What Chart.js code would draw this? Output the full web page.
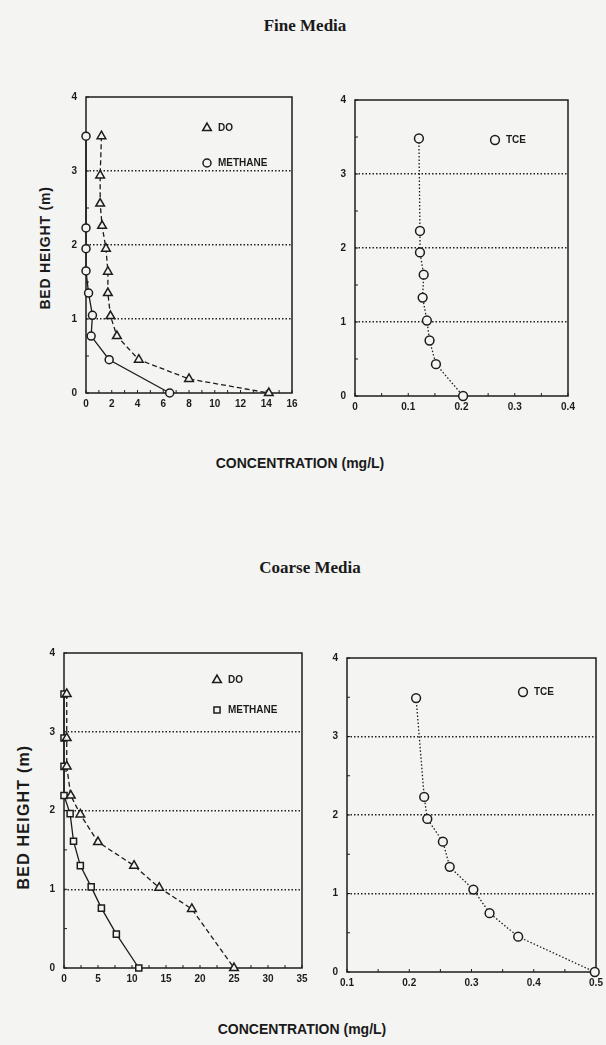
<!DOCTYPE html>
<html><head><meta charset="utf-8">
<script src="https://cdn.jsdelivr.net/npm/chart.js@4.4.0/dist/chart.umd.min.js"></script>
<style>
html,body{margin:0;padding:0;background:#f4f4f2;}
#page{position:relative;width:606px;height:1045px;overflow:hidden;background:#f4f4f2;}
canvas{position:absolute;}
.t{position:absolute;white-space:nowrap;color:#1a1a1a;line-height:1;}
.title{font-family:"Liberation Serif","DejaVu Serif",serif;font-weight:bold;font-size:17px;transform:translateX(-50%);}
.xl{font-family:"Liberation Sans",Arial,sans-serif;font-weight:bold;font-size:14px;transform:translateX(-50%);}
.yl{font-family:"Liberation Sans",Arial,sans-serif;font-weight:bold;transform:translate(-50%,-50%) rotate(-90deg);}
</style></head>
<body><div id="page">
<div class="t title" style="left:305px;top:17px">Fine Media</div>
<div class="t title" style="left:310px;top:559px">Coarse Media</div>
<div class="t xl" style="left:300px;top:456px">CONCENTRATION (mg/L)</div>
<div class="t xl" style="left:302px;top:1022px">CONCENTRATION (mg/L)</div>
<div class="t yl" style="left:45px;top:248px;font-size:14px;letter-spacing:0.8px">BED HEIGHT (m)</div>
<div class="t yl" style="left:24px;top:817px;font-size:16px;letter-spacing:1.2px">BED HEIGHT (m)</div>
<canvas id="c1"></canvas><canvas id="c2"></canvas><canvas id="c3"></canvas><canvas id="c4"></canvas>
</div>
<script>
// ---------- DATA ----------
// Fine media
const fineHeightDO      = [3.47, 2.94, 2.56, 2.26, 1.95, 1.64, 1.35, 1.04, 0.77, 0.45, 0.19, 0];
const fineDO            = [1.2, 1.1, 1.1, 1.25, 1.55, 1.7, 1.7, 1.9, 2.4, 4.1, 8.0, 14.2];
const fineHeightMethane = [3.47, 2.23, 1.95, 1.65, 1.35, 1.05, 0.77, 0.45, 0];
const fineMethane       = [0, 0, 0, 0, 0.2, 0.5, 0.4, 1.8, 6.5];
const fineHeightTCE     = [3.48, 2.23, 1.94, 1.64, 1.33, 1.02, 0.75, 0.43, 0];
const fineTCE           = [0.12, 0.122, 0.122, 0.129, 0.127, 0.135, 0.14, 0.152, 0.203];
// Coarse media
const coarseHeightDO      = [3.48, 2.92, 2.56, 2.19, 1.95, 1.6, 1.3, 1.02, 0.75, 0];
const coarseDO            = [0.4, 0.4, 0.4, 1.0, 2.4, 5.0, 10.3, 14.0, 18.8, 25.0];
const coarseHeightMethane = [3.48, 2.92, 2.56, 2.19, 1.96, 1.61, 1.3, 1.03, 0.76, 0.43, 0];
const coarseMethane       = [0, 0, 0, 0, 0.9, 1.4, 2.4, 4.0, 5.5, 7.7, 11.0];
const coarseHeightTCE     = [3.49, 2.23, 1.95, 1.66, 1.34, 1.05, 0.75, 0.45, 0];
const coarseTCE           = [0.211, 0.224, 0.229, 0.254, 0.265, 0.303, 0.329, 0.375, 0.498];
// Tick labels
const heightTicks     = [0, 1, 2, 3, 4];
const fineGasTicks    = [0, 2, 4, 6, 8, 10, 12, 14, 16];
const fineTCETicks    = [0, 0.1, 0.2, 0.3, 0.4];
const coarseGasTicks  = [0, 5, 10, 15, 20, 25, 30, 35];
const coarseTCETicks  = [0.1, 0.2, 0.3, 0.4, 0.5];
const seriesLabels    = {DO: 'DO', METHANE: 'METHANE', TCE: 'TCE'};

// ---------- STYLE / HELPERS ----------
const INK = '#1c1c1c', PAPER = '#f4f4f2';
const FONT = '"Liberation Sans", Arial, sans-serif';
const pts = (xs, ys) => xs.map((x, i) => ({x: x, y: ys[i]}));

function ds(label, xs, ys, style) {
  return Object.assign({
    label: label, data: pts(xs, ys), showLine: true, clip: false,
    borderColor: INK, borderWidth: 1.3, pointBorderColor: INK, pointBackgroundColor: PAPER,
    pointBorderWidth: 1.5, pointRadius: 4, pointHoverRadius: 4, tension: 0
  }, style);
}
const doStyle    = {borderDash: [5, 3], pointStyle: 'triangle', pointRadius: 5};
const methStyleC = {borderDash: [], pointStyle: 'circle', pointRadius: 4};
const methStyleR = {borderDash: [], pointStyle: 'rect', pointRadius: 4.3};
const tceStyle   = {borderDash: [1.5, 2], pointStyle: 'circle', pointRadius: 4.4};

const framePlugin = {
  id: 'frame',
  beforeDatasetsDraw(chart) {
    const o = chart.options.plugins.frame;
    const {ctx, chartArea: a, scales: {x, y}} = chart;
    ctx.save();
    ctx.strokeStyle = INK; ctx.lineWidth = 1.5; ctx.setLineDash([]);
    ctx.strokeRect(a.left, a.top, a.right - a.left, a.bottom - a.top);
    ctx.lineWidth = 1;
    ctx.beginPath();
    for (let v = x.min; v <= x.max + 1e-9; v += o.xMinor) {
      const px = x.getPixelForValue(v);
      ctx.moveTo(px, a.bottom); ctx.lineTo(px, a.bottom - 3);
    }
    for (let v = y.min; v <= y.max + 1e-9; v += o.yMinor) {
      const py = y.getPixelForValue(v);
      ctx.moveTo(a.left, py); ctx.lineTo(a.left + 3, py);
    }
    ctx.stroke();
    ctx.restore();
  }
};

const legendPlugin = {
  id: 'inLegend',
  afterDraw(chart) {
    const o = chart.options.plugins.inLegend;
    const {ctx, chartArea: a} = chart;
    ctx.save();
    ctx.font = 'bold 10px ' + FONT;
    ctx.textBaseline = 'middle';
    chart.data.datasets.forEach((d, i) => {
      const cx = a.left + o.x, cy = a.top + o.y + i * o.gap;
      ctx.strokeStyle = INK; ctx.fillStyle = PAPER; ctx.setLineDash([]); ctx.lineWidth = 1.5;
      Chart.helpers.drawPoint(ctx, {pointStyle: d.pointStyle, radius: d.pointRadius, borderWidth: 1.5, rotation: 0}, cx, cy);
      ctx.fillStyle = INK;
      ctx.fillText(d.label, cx + 11, cy + 0.5);
    });
    ctx.restore();
  }
};

function makeChart(id, box, xMin, xMax, xTicks, xMinor, datasets, legend) {
  const cv = document.getElementById(id);
  const w = box.R - box.L + 42, h = box.B - box.T + 32;
  cv.width = w; cv.height = h;
  cv.style.left = (box.L - 30) + 'px'; cv.style.top = (box.T - 10) + 'px';
  cv.style.width = w + 'px'; cv.style.height = h + 'px';
  const tickFont = {family: FONT, size: 10, weight: 'bold'};
  return new Chart(cv, {
    type: 'scatter',
    data: {datasets: datasets},
    options: {
      responsive: false, animation: false, devicePixelRatio: 1,
      layout: {padding: {top: 10, right: 12, left: 0, bottom: 0}},
      plugins: {legend: {display: false}, tooltip: {enabled: false},
        frame: {xMinor: xMinor, yMinor: 0.5}, inLegend: legend},
      scales: {
        x: {type: 'linear', min: xMin, max: xMax,
          afterBuildTicks: s => { s.ticks = xTicks.map(v => ({value: v})); },
          afterFit: s => { s.height = 22; },
          grid: {display: false, drawTicks: false}, border: {display: false},
          ticks: {font: tickFont, color: INK, padding: 5, maxRotation: 0, autoSkip: false,
            callback: v => String(v)}},
        y: {type: 'linear', min: 0, max: 4,
          afterBuildTicks: s => { s.ticks = heightTicks.map(v => ({value: v})); },
          afterFit: s => { s.width = 30; },
          grid: {drawTicks: false, lineWidth: 1.4,
            color: c => (c.tick && c.tick.value > 0 && c.tick.value < 4) ? '#222' : 'rgba(0,0,0,0)'},
          border: {display: false, dash: [1.5, 2]},
          ticks: {font: tickFont, color: INK, padding: 9, autoSkip: false, callback: v => String(v)}}
      }
    },
    plugins: [framePlugin, legendPlugin]
  });
}

makeChart('c1', {L: 86, T: 92, R: 292, B: 393}, 0, 16, fineGasTicks, 1, [
  ds(seriesLabels.DO, fineDO, fineHeightDO, doStyle),
  ds(seriesLabels.METHANE, fineMethane, fineHeightMethane, methStyleC)
], {x: 121, y: 31, gap: 35});

makeChart('c2', {L: 355, T: 95, R: 568, B: 396}, 0, 0.4, fineTCETicks, 0.05, [
  ds(seriesLabels.TCE, fineTCE, fineHeightTCE, tceStyle)
], {x: 140, y: 40, gap: 30});

makeChart('c3', {L: 64, T: 648, R: 302, B: 968}, 0, 35, coarseGasTicks, 2.5, [
  ds(seriesLabels.DO, coarseDO, coarseHeightDO, doStyle),
  ds(seriesLabels.METHANE, coarseMethane, coarseHeightMethane, methStyleR)
], {x: 153, y: 27, gap: 30});

makeChart('c4', {L: 347, T: 653, R: 596, B: 972}, 0.1, 0.5, coarseTCETicks, 0.05, [
  ds(seriesLabels.TCE, coarseTCE, coarseHeightTCE, tceStyle)
], {x: 176, y: 34, gap: 30});
</script>
</body></html>
